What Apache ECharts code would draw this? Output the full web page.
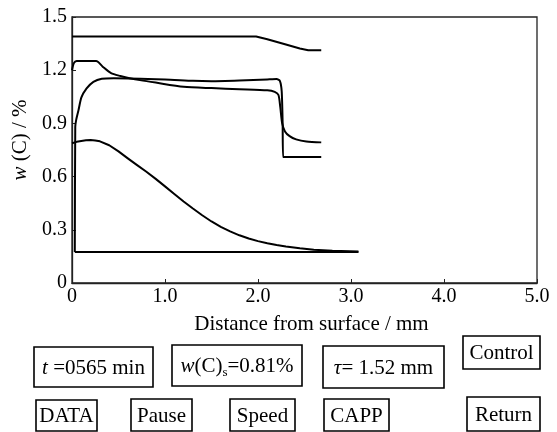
<!DOCTYPE html>
<html><head><meta charset="utf-8">
<script src="https://cdn.jsdelivr.net/npm/echarts@6/dist/echarts.min.js"></script>
<style>html,body{margin:0;padding:0;background:#fff}#c{width:557px;height:432px}</style>
</head><body><div id="c"></div>
<script>
// tick labels
const xTicks = ['0', '1.0', '2.0', '3.0', '4.0', '5.0'];
const yTicks = ['0', '0.3', '0.6', '0.9', '1.2', '1.5'];

// curves: [distance (mm), w(C) (%)]
const topCurve = [[0,1.39],[1.98,1.39],[2.1,1.375],[2.3,1.345],[2.45,1.322],[2.54,1.313],[2.68,1.313]];
const highStartCurve = [[0,1.2],[0.02,1.24],[0.05,1.252],[0.26,1.252],[0.33,1.22],[0.42,1.183],[0.52,1.167],[0.62,1.155],[0.73,1.144],[0.9,1.13],[1.2,1.107],[1.5,1.099],[1.8,1.093],[2.1,1.087],[2.18,1.078],[2.22,1.06],[2.24,0.99],[2.26,0.9],[2.29,0.855],[2.34,0.828],[2.41,0.81],[2.52,0.798],[2.68,0.793]];
const risingCurve = [[0.03,0.175],[0.035,0.88],[0.045,0.92],[0.07,0.975],[0.1,1.045],[0.157,1.097],[0.23,1.134],[0.32,1.152],[0.45,1.155],[1.0,1.148],[1.3,1.14],[1.5,1.138],[1.8,1.142],[2.1,1.148],[2.2,1.15],[2.235,1.14],[2.255,1.08],[2.265,0.9],[2.27,0.71],[2.68,0.71]];
const bellCurve = [[0,0.788],[0.05,0.796],[0.1,0.801],[0.15,0.805],[0.2,0.806],[0.25,0.804],[0.3,0.799],[0.4,0.777],[0.5,0.742],[0.6,0.703],[0.7,0.665],[0.8,0.627],[0.9,0.587],[1.0,0.545],[1.1,0.502],[1.2,0.46],[1.3,0.42],[1.4,0.382],[1.5,0.347],[1.6,0.317],[1.7,0.291],[1.8,0.269],[1.9,0.251],[2.0,0.236],[2.1,0.224],[2.2,0.214],[2.3,0.206],[2.45,0.196],[2.6,0.188],[2.8,0.182],[3.08,0.178]];
const baseLine = [[0.03,0.175],[3.08,0.175]];

// panel buttons
const row1Buttons = ['{i|t} =0565 min', '{i|w}(C){sub|s}=0.81%', '{i|τ}= 1.52 mm', 'Control'];
const row2Buttons = ['DATA', 'Pause', 'Speed', 'CAPP', 'Return'];

const SERIF = "'Liberation Serif', 'Times New Roman', serif";
const FS = 21;
const rich = {
  i: {fontFamily: SERIF, fontStyle: 'italic', fontSize: FS, fill: '#000'},
  sub: {fontFamily: SERIF, fontSize: 13, fill: '#000', verticalAlign: 'bottom', padding: [12, 0, 0, 0]}
};
const row1Boxes = [[34,347,119,40],[172,345,130,41],[323,346,121,42],[463,336,77,33]];
const row2Boxes = [[36,400,61,31],[131,399,61,32],[230,399,65,32],[324,399,65,32],[467,397,73,34]];

const graphics = [];
function addButton(label, b) {
  graphics.push({type:'rect', shape:{x:b[0], y:b[1], width:b[2], height:b[3]},
    style:{fill:'#fff', stroke:'#000', lineWidth:1.6}, z:10});
  graphics.push({type:'text', x:b[0]+b[2]/2, y:b[1]+b[3]/2+1, z:11,
    style:{text:label, rich:rich, fontFamily:SERIF, fontSize:FS, fill:'#000', align:'center', verticalAlign:'middle'}});
}
row1Buttons.forEach((t,i)=>addButton(t,row1Boxes[i]));
row2Buttons.forEach((t,i)=>addButton(t,row2Boxes[i]));

function lineSeries(data, smooth) {
  return {type:'line', data:data, showSymbol:false, smooth:smooth, animation:false,
    lineStyle:{color:'#000', width:2, join:'round'}, itemStyle:{color:'#000'}};
}

const chart = echarts.init(document.getElementById('c'), null, {renderer:'canvas'});
chart.setOption({
  animation:false,
  backgroundColor:'#fff',
  grid:{left:72, right:20, top:17, bottom:149, show:true, borderColor:'#222', borderWidth:1.3},
  xAxis:{type:'value', min:0, max:5, interval:1,
    name:'Distance from surface / mm', nameLocation:'middle', nameGap:31,
    nameTextStyle:{fontFamily:SERIF, fontSize:21, color:'#000', padding:[0,0,0,14]},
    axisLine:{lineStyle:{color:'#222', width:1.3}},
    axisTick:{inside:true, length:4, lineStyle:{color:'#222'}},
    splitLine:{show:false},
    axisLabel:{fontFamily:SERIF, fontSize:20, color:'#000', margin:4,
      formatter:v=>xTicks[Math.round(v)]}},
  yAxis:{type:'value', min:0, max:1.5, interval:0.3,
    name:'{i|w} (C) / %', nameLocation:'middle', nameGap:33, nameRotate:90,
    nameTextStyle:{fontFamily:SERIF, fontSize:21, color:'#000', padding:[0,0,0,20],
      rich:{i:{fontFamily:SERIF, fontStyle:'italic', fontSize:21, color:'#000'}}},
    axisLine:{lineStyle:{color:'#222', width:1.3}},
    axisTick:{inside:true, length:4, lineStyle:{color:'#222'}},
    splitLine:{show:false},
    axisLabel:{fontFamily:SERIF, fontSize:20, color:'#000', margin:5,
      formatter:v=>yTicks[Math.round(v/0.3)]}},
  series:[
    lineSeries(topCurve, false),
    lineSeries(highStartCurve, 0.25),
    lineSeries(risingCurve, 0.2),
    lineSeries(bellCurve, false),
    lineSeries(baseLine, false)
  ],
  graphic:graphics
});
</script>
</body></html>
